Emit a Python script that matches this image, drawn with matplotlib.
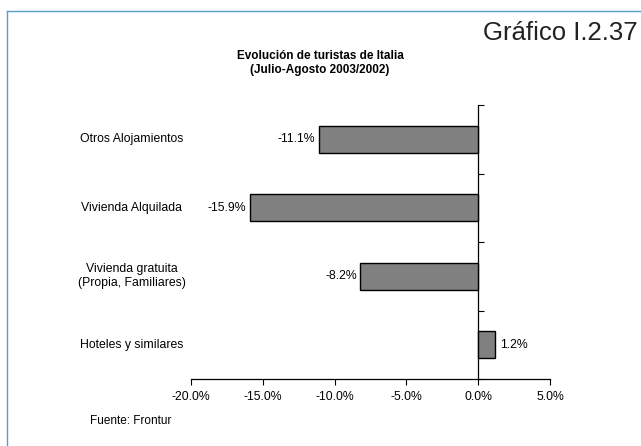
import matplotlib
matplotlib.use("Agg")
import matplotlib.pyplot as plt
from matplotlib.lines import Line2D

plt.rcParams['font.family'] = ['Liberation Sans', 'DejaVu Sans']

categories = ["Hoteles y similares",
              "Vivienda gratuita\n(Propia, Familiares)",
              "Vivienda Alquilada",
              "Otros Alojamientos"]
values = [1.2, -8.2, -15.9, -11.1]
xticks = [-20, -15, -10, -5, 0, 5]
xtick_labels = ["-20.0%", "-15.0%", "-10.0%", "-5.0%", "0.0%", "5.0%"]

fig = plt.figure(figsize=(6.41, 4.46), dpi=100)
ax = fig.add_axes([191 / 641, 1 - 379 / 446, (550 - 191) / 641, (379 - 105) / 446])

ypos = list(range(len(categories)))
ax.barh(ypos, values, height=0.4, color="#808080", edgecolor="black", linewidth=1.0, zorder=3)

ax.set_xlim(-20, 5)
ax.set_ylim(-0.5, len(categories) - 0.5)
ax.set_xticks(xticks)
ax.set_xticklabels(xtick_labels, fontsize=8.8)
ax.tick_params(axis="x", direction="out", length=4, width=0.8, pad=5, colors="black")

# Category axis sits on zero; ticks mark the boundaries between categories
ax.spines["left"].set_position(("data", 0))
ax.spines["right"].set_visible(False)
ax.spines["top"].set_visible(False)
ax.set_yticks([i - 0.5 for i in range(len(categories) + 1)])
ax.set_yticklabels([])
ax.tick_params(axis="y", direction="in", length=4, width=0.8)
for sp in ("left", "bottom"):
    ax.spines[sp].set_linewidth(0.9)

# Category names on the left
for y, name in zip(ypos, categories):
    ax.annotate(name, xy=(-20, y), xycoords="data", xytext=(-42.5, 0),
                textcoords="offset points", ha="center", va="center",
                fontsize=8.8, multialignment="center")

# Value labels
for y, v in zip(ypos, values):
    label = f"{v:.1f}%"
    if v < 0:
        ax.annotate(label, xy=(v, y), xytext=(-2.5, 0), textcoords="offset points",
                    ha="right", va="center", fontsize=8.8)
    else:
        ax.annotate(label, xy=(v, y), xytext=(3.6, 0), textcoords="offset points",
                    ha="left", va="center", fontsize=8.8)

fig.text(320 / 641, 1 - 63 / 446, "Evolución de turistas de Italia\n(Julio-Agosto 2003/2002)",
         ha="center", va="center", fontsize=8.5, fontweight="bold", linespacing=1.25)
fig.text(638 / 641, 1 - 33.5 / 446, "Gráfico I.2.37", ha="right", va="center", fontsize=18.5,
         color="#222222")
fig.text(90 / 641, 1 - 421 / 446, "Fuente: Frontur", ha="left", va="center", fontsize=8.5)

# Frame around the chart
frame_color = "#5b9ec9"
fig.add_artist(Line2D([7 / 641, 7 / 641], [0, 1 - 11 / 446], transform=fig.transFigure,
                      color=frame_color, linewidth=1.0))
fig.add_artist(Line2D([7 / 641, 1], [1 - 11 / 446, 1 - 11 / 446], transform=fig.transFigure,
                      color=frame_color, linewidth=1.0))

fig.savefig("out.png", dpi=100, facecolor="white")
